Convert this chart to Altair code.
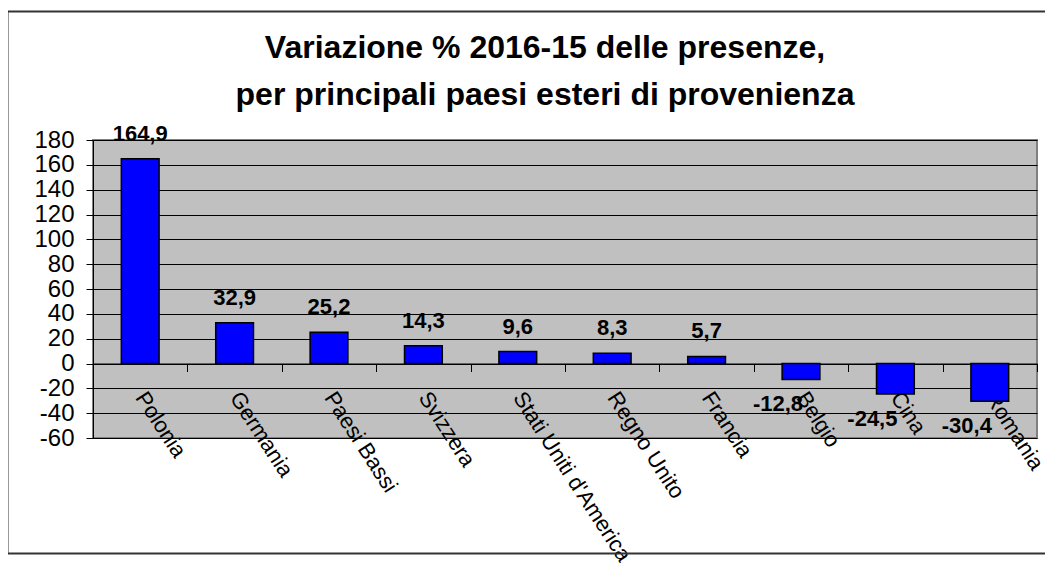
import altair as alt
import pandas as pd

countries = ["Polonia", "Germania", "Paesi Bassi", "Svizzera", "Stati Uniti d'America",
             "Regno Unito", "Francia", "Belgio", "Cina", "Romania"]
values = [164.9, 32.9, 25.2, 14.3, 9.6, 8.3, 5.7, -12.8, -24.5, -30.4]
y_ticks = list(range(-60, 181, 20))
title_lines = ["Variazione % 2016-15 delle presenze,",
               "per principali paesi esteri di provenienza"]

df = pd.DataFrame({"paese": countries, "var": values})

W, H = 944, 298
FONT = "Liberation Sans"

x = alt.X("paese:N", sort=countries,
          scale=alt.Scale(paddingInner=0, paddingOuter=0),
          axis=alt.Axis(title=None, orient="bottom", offset=-74.5,
                        labelAngle=57, labelAlign="left", labelBaseline="middle",
                        labelPadding=22, labelFontSize=22, labelFont=FONT,
                        labelColor="black", labelLimit=400, labelOverlap=False,
                        tickBand="extent", tickSize=8, tickColor="black",
                        domainColor="black", domainWidth=1, grid=False))
y = alt.Y("var:Q", scale=alt.Scale(domain=[-60, 180], nice=False, zero=False),
          axis=alt.Axis(title=None, values=y_ticks, tickCount=13,
                        labelExpr="toString(datum.value)",
                        labelFontSize=24, labelFont=FONT, labelColor="black",
                        labelPadding=12, labelOverlap=False, tickSize=7,
                        tickColor="black", domainColor="black", grid=True,
                        gridColor="black", gridOpacity=1, gridWidth=1))

base = alt.Chart(df)

bars = base.mark_bar(width=alt.RelativeBandSize(0.4), color="#0000FF",
                     stroke="black", strokeWidth=1.5).encode(
    x=x, y=y, y2=alt.datum(0))

lab = base.transform_calculate(
    lbl="replace(toString(datum.var), '.', ',')")

pos_lab = lab.transform_filter("datum.var >= 0").mark_text(
    font=FONT, fontSize=22, fontWeight="bold", color="black",
    baseline="middle", dy=-25).encode(x=x, y=y, text="lbl:N")

neg_lab = lab.transform_filter("datum.var < 0").mark_text(
    font=FONT, fontSize=22, fontWeight="bold", color="black",
    baseline="middle", dy=25, dx=-23).encode(x=x, y=y, text="lbl:N")

title = alt.Chart(alt.Data(values=[{}])).mark_text(
    text=title_lines, font=FONT, fontSize=32, fontWeight="bold", color="black",
    align="center", baseline="middle", lineHeight=47).encode(
    x=alt.value(452), y=alt.value(-92))

frame = alt.Chart(alt.Data(values=[{}])).mark_rect(
    fill="transparent", stroke="#333333", strokeWidth=2, clip=False).encode(
    x=alt.value(-85.5), x2=alt.value(990), y=alt.value(-128.5), y2=alt.value(413.5))

chart = alt.layer(bars, pos_lab, neg_lab, title, frame).properties(
    width=W, height=H,
    autosize=alt.AutoSizeParams(type="none"),
    padding={"left": 85, "top": 132, "right": 8, "bottom": 125},
    background="white",
).configure_view(fill="#C0C0C0", stroke="#808080", strokeWidth=2)

chart.save("out.html", embed_options={"renderer": "svg", "actions": False})
